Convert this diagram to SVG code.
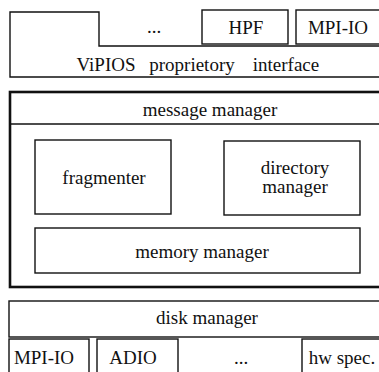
<svg xmlns="http://www.w3.org/2000/svg" width="379" height="372" viewBox="0 0 379 372">
<style>
  .b{fill:none;stroke:#111;stroke-width:1.4}
  .k{fill:none;stroke:#111;stroke-width:2.6}
  text{font-family:'Liberation Serif','DejaVu Serif',serif;font-size:19px;fill:#111;text-anchor:middle}
</style>
<rect width="379" height="372" fill="#fff"/>
<g id="proprietary-interface">
  <path class="b" d="M10,12 H99 V46 H390 V77 H10 Z"/>
  <text x="106" y="71">ViPIOS</text>
  <text x="192" y="71">proprietory</text>
  <text x="286" y="71">interface</text>
</g>
<g id="top-dots"><text x="154" y="33">...</text></g>
<g id="hpf">
  <rect class="b" x="202" y="10" width="86" height="34"/>
  <text x="246" y="34">HPF</text>
</g>
<g id="mpiio-top">
  <rect class="b" x="296" y="10" width="94" height="34"/>
  <text x="338" y="34">MPI-IO</text>
</g>
<g id="message-manager">
  <rect class="k" x="10" y="92" width="380" height="195"/>
  <line class="b" x1="10" y1="124" x2="390" y2="124"/>
  <text x="210" y="116">message manager</text>
</g>
<g id="fragmenter">
  <rect class="b" x="35" y="140" width="136" height="74"/>
  <text x="104" y="184">fragmenter</text>
</g>
<g id="directory-manager">
  <rect class="b" x="224" y="141" width="136" height="74"/>
  <text x="295" y="174">directory</text>
  <text x="295" y="193">manager</text>
</g>
<g id="memory-manager">
  <rect class="b" x="35" y="228" width="325" height="45"/>
  <text x="202" y="258">memory manager</text>
</g>
<g id="disk-manager">
  <rect class="b" x="9" y="301" width="381" height="36"/>
  <text x="207" y="324">disk manager</text>
</g>
<g id="mpiio-bottom">
  <rect class="b" x="9" y="339" width="80" height="40"/>
  <text x="44" y="364">MPI-IO</text>
</g>
<g id="adio">
  <rect class="b" x="97" y="339" width="81" height="40"/>
  <text x="133" y="364">ADIO</text>
</g>
<g id="bottom-dots"><text x="241" y="364">...</text></g>
<g id="hw-spec">
  <rect class="b" x="302" y="339" width="88" height="40"/>
  <text x="342" y="364">hw spec.</text>
</g>
<g id="connectors"/>
</svg>
